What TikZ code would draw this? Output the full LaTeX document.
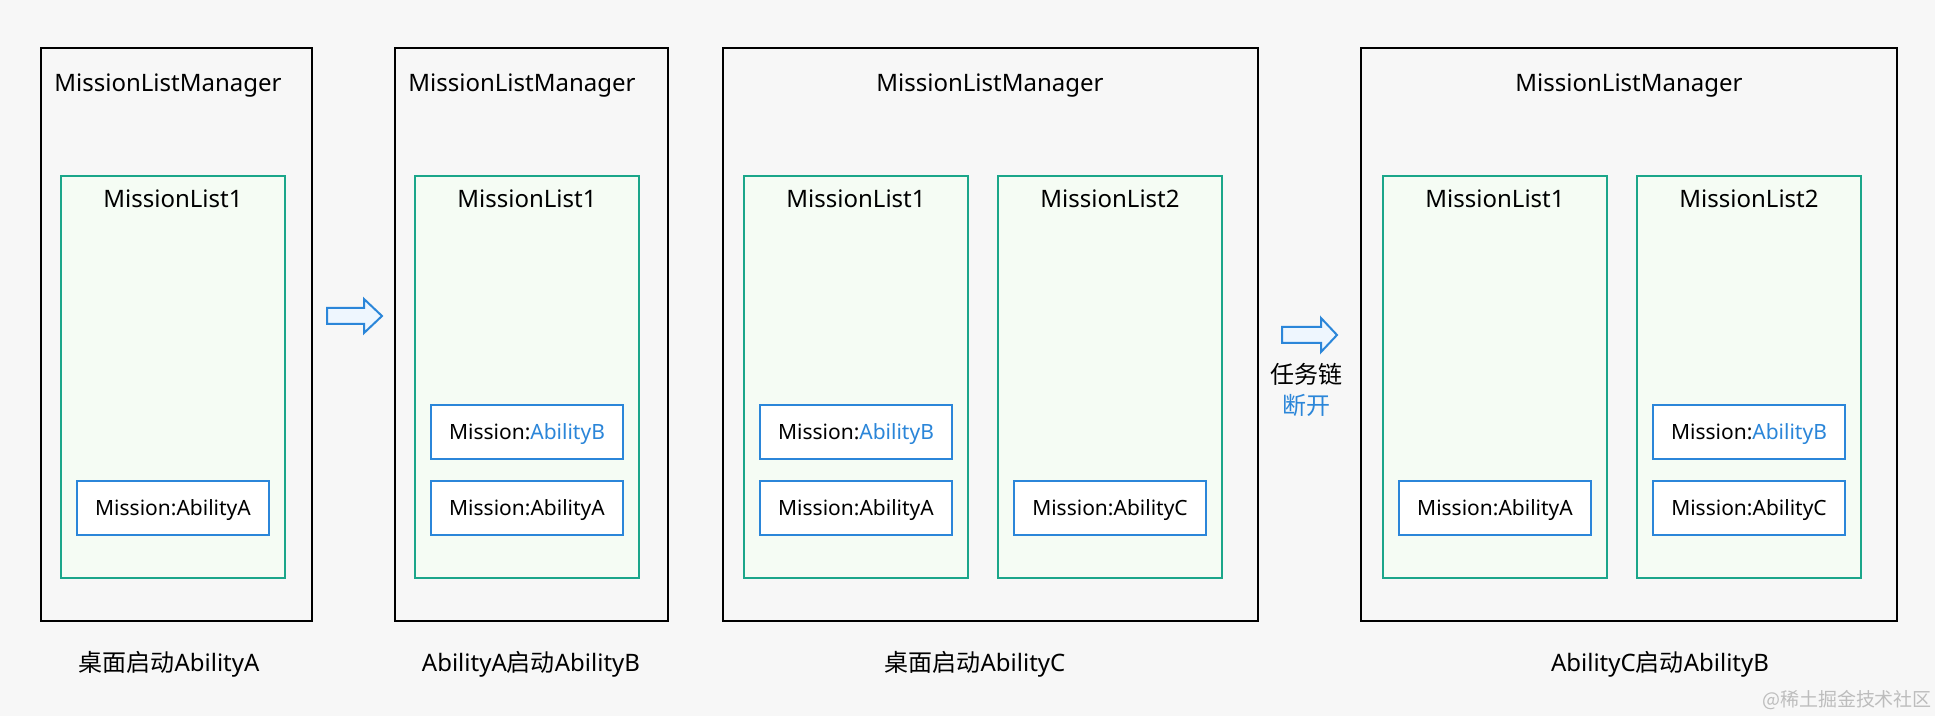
\documentclass[tikz,border=0pt]{standalone}
\usepackage{fontspec}
\setmainfont{Noto Sans}
\newfontfamily\cjk{Noto Sans CJK SC}
\usetikzlibrary{positioning,fit}
\definecolor{bgcol}{HTML}{F7F7F7}
\definecolor{listcol}{HTML}{1BA68A}
\definecolor{listfill}{HTML}{F5FCF4}
\definecolor{misscol}{HTML}{2B86D9}
\definecolor{arrowfill}{HTML}{EEF6FE}
\definecolor{markcol}{HTML}{BDBDBD}
\newcommand{\hlab}[1]{\textcolor{misscol}{#1}}

\begin{document}
\begin{tikzpicture}[x=0.5pt,y=-0.5pt]
  %--------------------------------------------
  % Styles
  %--------------------------------------------
  \tikzset{
    manager/.style={draw=black, line width=1pt, inner sep=0pt},
    mlist/.style={draw=listcol, fill=listfill, line width=1pt, inner sep=0pt},
    mission/.style={draw=misscol, fill=white, line width=1pt,
      minimum width=96pt, minimum height=27pt, inner sep=0pt,
      font=\fontsize{10.5pt}{12pt}\selectfont, text height=0.714em, text depth=0pt},
    title/.style={anchor=base, inner sep=0pt, font=\fontsize{12pt}{14pt}\selectfont},
    blockarrow/.style={draw=misscol, fill=arrowfill, line width=1pt, line join=miter}
  }

  % background (fixes the picture size)
  \fill[bgcol] (0,0) rectangle (1935,716);

  %--------------------------------------------
  % Step 1: launcher starts AbilityA
  %--------------------------------------------
  \node[manager, fit={(41,48) (312,621)}] (m1) {};
  \node[title, anchor=base west] (m1t) at (54,92) {MissionListManager};
  \node[mlist, fit={(61,176) (285,578)}] (m1l1) {};
  \node[title] (m1l1t) at (173,208) {MissionList1};
  \node[mission, above=21.5pt of m1l1.south] (m1l1a) {Mission:AbilityA};
  \node[title] (c1) at (169,672) {{\cjk 桌面启动}AbilityA};

  %--------------------------------------------
  % Step 2: AbilityA starts AbilityB
  %--------------------------------------------
  \node[manager, fit={(395,48) (668,621)}] (m2) {};
  \node[title, anchor=base west] (m2t) at (408,92) {MissionListManager};
  \node[mlist, fit={(415,176) (639,578)}] (m2l1) {};
  \node[title] (m2l1t) at (527,208) {MissionList1};
  \node[mission, above=21.5pt of m2l1.south] (m2l1a) {Mission:AbilityA};
  \node[mission, above=10pt of m2l1a] (m2l1b) {Mission:\hlab{AbilityB}};
  \node[title] (c2) at (531,672) {AbilityA{\cjk 启动}AbilityB};

  %--------------------------------------------
  % Step 3: launcher starts AbilityC
  %--------------------------------------------
  \node[manager, fit={(723,48) (1258,621)}] (m3) {};
  \node[title] (m3t) at (990,92) {MissionListManager};
  \node[mlist, fit={(744,176) (968,578)}] (m3l1) {};
  \node[title] (m3l1t) at (856,208) {MissionList1};
  \node[mission, above=21.5pt of m3l1.south] (m3l1a) {Mission:AbilityA};
  \node[mission, above=10pt of m3l1a] (m3l1b) {Mission:\hlab{AbilityB}};
  \node[mlist, fit={(998,176) (1222,578)}] (m3l2) {};
  \node[title] (m3l2t) at (1110,208) {MissionList2};
  \node[mission, above=21.5pt of m3l2.south] (m3l2c) {Mission:AbilityC};
  \node[title] (c3) at (975,672) {{\cjk 桌面启动}AbilityC};

  %--------------------------------------------
  % Step 4: AbilityC starts AbilityB
  %--------------------------------------------
  \node[manager, fit={(1361,48) (1897,621)}] (m4) {};
  \node[title] (m4t) at (1629,92) {MissionListManager};
  \node[mlist, fit={(1383,176) (1607,578)}] (m4l1) {};
  \node[title] (m4l1t) at (1495,208) {MissionList1};
  \node[mission, above=21.5pt of m4l1.south] (m4l1a) {Mission:AbilityA};
  \node[mlist, fit={(1637,176) (1861,578)}] (m4l2) {};
  \node[title] (m4l2t) at (1749,208) {MissionList2};
  \node[mission, above=21.5pt of m4l2.south] (m4l2c) {Mission:AbilityC};
  \node[mission, above=10pt of m4l2c] (m4l2b) {Mission:\hlab{AbilityB}};
  \node[title] (c4) at (1660,672) {AbilityC{\cjk 启动}AbilityB};

  %--------------------------------------------
  % Block arrows between the steps
  %--------------------------------------------
  \foreach \ax/\ay/\sl/\hl in {327/316/37/18, 1282/335/39/16}{
    \draw[blockarrow] (\ax,\ay) ++(0,-8) -- ++(\sl,0) -- ++(0,-9)
      -- ++(\hl,17) -- ++(-\hl,17) -- ++(0,-9) -- ++(-\sl,0) -- cycle;
  }
  \node[title] (brk1) at (1306,384) {\cjk 任务链};
  \node[title, text=misscol] (brk2) at (1306,415) {\cjk 断开};

  % watermark
  \node[title, text=markcol, font=\fontsize{9.5pt}{11pt}\selectfont] (wm) at (1847,706) {{\cjk @稀土掘金技术社区}};
\end{tikzpicture}
\end{document}
